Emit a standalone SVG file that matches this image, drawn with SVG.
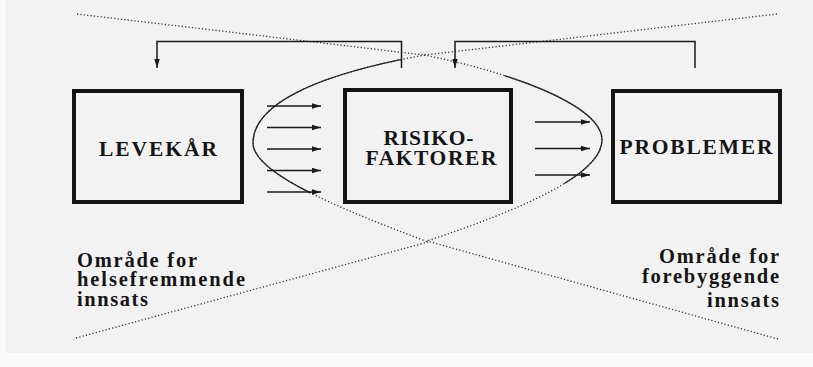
<svg xmlns="http://www.w3.org/2000/svg" width="813" height="367" viewBox="0 0 813 367">
  <style>
    .box { fill: none; stroke: #141414; stroke-width: 4; }
    .lbl { font-family: "Liberation Serif", "DejaVu Serif", serif; font-weight: bold; font-size: 21.5px; fill: #151515; }
    .area { font-family: "Liberation Serif", "DejaVu Serif", serif; font-weight: bold; font-size: 20.5px; fill: #151515; }
    .dot { fill: none; stroke: #333; stroke-width: 1.3; stroke-dasharray: 1.2 2.2; }
    .arc { fill: none; stroke: #262626; stroke-width: 1.3; }
    .link { fill: none; stroke: #1a1a1a; stroke-width: 1.5; }
  </style>
  <defs>
    <marker id="head" markerUnits="userSpaceOnUse" markerWidth="10" markerHeight="8" refX="9" refY="4" orient="auto">
      <path d="M0,1.3 L9,4 L0,6.7 Z" fill="#1a1a1a"/>
    </marker>
    <path id="lensL" d="M425,55 C330,72 253,100 253,143 C253,172 330,205 428,242"/>
    <path id="lensR" d="M424,55 C510,72 602,105 602,140 C602,175 520,210 427,241"/>
  </defs>

  <!-- paper -->
  <rect x="0" y="0" width="813" height="367" fill="#fafafa"/>
  <rect x="6" y="0" width="807" height="353" fill="#f2f2f2"/>

  <!-- crossing dotted guide lines and the lens between them -->
  <g id="zones">
    <path class="dot" d="M77,14 L424,55"/>
    <path class="dot" d="M777,14 L425,55"/>
    <path class="dot" d="M76,338 L428,242"/>
    <path class="dot" d="M778,339 L427,241"/>
    <use href="#lensL" class="dot"/>
    <use href="#lensR" class="dot"/>
    <path class="arc" d="M425,55 C330,72 253,100 253,143 C253,172 330,205 428,242" pathLength="100" stroke-dasharray="0 6 63 100"/>
    <path class="arc" d="M424,55 C510,72 602,105 602,140 C602,175 520,210 427,241" pathLength="100" stroke-dasharray="0 20 44 100"/>
  </g>

  <g id="levekar">
    <rect class="box" x="74" y="91" width="168" height="111"/>
    <text class="lbl" x="158" y="156" text-anchor="middle" textLength="118" lengthAdjust="spacing">LEVEKÅR</text>
  </g>

  <g id="risikofaktorer">
    <rect class="box" x="345" y="90" width="166" height="112"/>
    <text class="lbl" x="428.5" y="144.5" text-anchor="middle" textLength="90" lengthAdjust="spacing">RISIKO-</text>
    <text class="lbl" x="431" y="165" text-anchor="middle" textLength="131" lengthAdjust="spacing">FAKTORER</text>
  </g>

  <g id="problemer">
    <rect class="box" x="613" y="91" width="167" height="111"/>
    <text class="lbl" x="696" y="154" text-anchor="middle" textLength="153" lengthAdjust="spacing">PROBLEMER</text>
  </g>

  <g id="connectors">
    <path class="link" d="M401.5,68 V41.5 H157 V68" marker-end="url(#head)"/>
    <path class="link" d="M695,68 V41.5 H455 V68" marker-end="url(#head)"/>
    <path class="link" d="M267,106 H321" marker-end="url(#head)"/>
    <path class="link" d="M267,127.5 H321" marker-end="url(#head)"/>
    <path class="link" d="M267,149 H321" marker-end="url(#head)"/>
    <path class="link" d="M267,170.5 H321" marker-end="url(#head)"/>
    <path class="link" d="M267,192 H321" marker-end="url(#head)"/>
    <path class="link" d="M535,122 H590" marker-end="url(#head)"/>
    <path class="link" d="M535,148.5 H590" marker-end="url(#head)"/>
    <path class="link" d="M535,175 H590" marker-end="url(#head)"/>
  </g>

  <g id="helsefremmende">
    <text class="area" x="77" y="266.5" textLength="120" lengthAdjust="spacing">Område for</text>
    <text class="area" x="77" y="286" textLength="168" lengthAdjust="spacing">helsefremmende</text>
    <text class="area" x="77" y="305.5" textLength="71" lengthAdjust="spacing">innsats</text>
  </g>

  <g id="forebyggende">
    <text class="area" x="779" y="262.5" text-anchor="end" textLength="120" lengthAdjust="spacing">Område for</text>
    <text class="area" x="779" y="283" text-anchor="end" textLength="137" lengthAdjust="spacing">forebyggende</text>
    <text class="area" x="779" y="306.5" text-anchor="end" textLength="72" lengthAdjust="spacing">innsats</text>
  </g>
</svg>
